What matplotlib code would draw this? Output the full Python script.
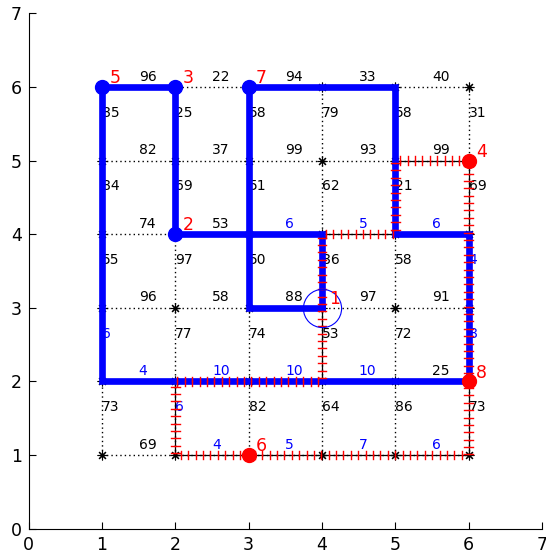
import numpy as np
import matplotlib
matplotlib.use("Agg")
from matplotlib import pyplot as plt
from matplotlib import patheffects

plt.rcParams["font.family"] = ["DejaVu Sans"]

# grid of nodes 1..6 x 1..6
grid_xs = [1, 2, 3, 4, 5, 6]
grid_ys = [1, 2, 3, 4, 5, 6]

# horizontal edge weights, row y, edge between x and x+1
h_weights = {
    1: [69, 4, 5, 7, 6],
    2: [4, 10, 10, 10, 25],
    3: [96, 58, 88, 97, 91],
    4: [74, 53, 6, 5, 6],
    5: [82, 37, 99, 93, 99],
    6: [96, 22, 94, 33, 40],
}
# 1 = updated weight (drawn blue)
h_updated = {
    1: [0, 1, 1, 1, 1],
    2: [1, 1, 1, 1, 0],
    3: [0, 0, 0, 0, 0],
    4: [0, 0, 1, 1, 1],
    5: [0, 0, 0, 0, 0],
    6: [0, 0, 0, 0, 0],
}
# vertical edge weights, column x, edge between y and y+1
v_weights = {
    1: [73, 6, 55, 84, 85],
    2: [6, 77, 97, 69, 25],
    3: [82, 74, 50, 51, 58],
    4: [64, 53, 86, 62, 79],
    5: [86, 72, 58, 21, 58],
    6: [73, 8, 4, 69, 31],
}
v_updated = {
    1: [0, 1, 0, 0, 0],
    2: [1, 0, 0, 0, 0],
    3: [0, 0, 0, 0, 0],
    4: [0, 0, 0, 0, 0],
    5: [0, 0, 0, 0, 0],
    6: [0, 1, 1, 0, 0],
}

# numbered nodes
node_ids = [1, 2, 3, 4, 5, 6, 7, 8]
node_x = [4, 2, 2, 6, 1, 3, 3, 6]
node_y = [3, 4, 6, 5, 6, 1, 6, 2]
node_kind = ["start", "blue", "blue", "red", "blue", "red", "blue", "red"]

# blue tour and red (ticked) tour, both closed
blue_x = [4, 3, 3, 5, 5, 6, 6, 1, 1, 2, 2, 4, 4]
blue_y = [3, 3, 6, 6, 4, 4, 2, 2, 6, 6, 4, 4, 3]
red_x = [4, 4, 5, 5, 6, 6, 2, 2, 4, 4]
red_y = [3, 4, 4, 5, 5, 1, 1, 2, 2, 3]

fig = plt.figure(figsize=(5.46, 5.6), dpi=100)
ax = fig.add_axes([0.0524, 0.0561, 0.9403, 0.920])

dotted = (0, (1, 2.2))
for y in grid_ys:
    ax.plot([grid_xs[0], grid_xs[-1]], [y, y], color="black", lw=1,
            linestyle=dotted, zorder=1)
for x in grid_xs:
    ax.plot([x, x], [grid_ys[0], grid_ys[-1]], color="black", lw=1,
            linestyle=dotted, zorder=1)

gx, gy = np.meshgrid(grid_xs, grid_ys)
ax.plot(gx.ravel(), gy.ravel(), linestyle="none", marker=(8, 2, 0),
        markersize=7, color="black", markeredgewidth=0.8, zorder=1.5)

# edge weights
for y, row in h_weights.items():
    for i, w in enumerate(row):
        x = grid_xs[i]
        c = "blue" if h_updated[y][i] else "black"
        ax.text(x + 0.5, y + 0.14, str(w), color=c, fontsize=10,
                ha="left", va="center", zorder=2)
for x, col in v_weights.items():
    for i, w in enumerate(col):
        y = grid_ys[i]
        c = "blue" if v_updated[x][i] else "black"
        ax.text(x, y + 0.65, str(w), color=c, fontsize=10,
                ha="left", va="center", zorder=2)

# red tour: thin black line, red cross ticks on top
ax.plot(red_x, red_y, color="black", lw=0.9, zorder=2.5)
ax.plot(blue_x, blue_y, color="blue", lw=4.8, solid_joinstyle="miter",
        solid_capstyle="projecting", zorder=3)
ticks = ax.plot(red_x, red_y, color="red", lw=1, zorder=4)[0]
ticks.set_path_effects([
    patheffects.TickedStroke(spacing=5.3, angle=90, length=0.58,
                             foreground="red", linewidth=1),
    patheffects.TickedStroke(spacing=5.3, angle=-90, length=0.58,
                             foreground="red", linewidth=1),
])

for nid, x, y, kind in zip(node_ids, node_x, node_y, node_kind):
    if kind == "start":
        ax.plot(x, y, marker="o", markersize=27.5, markerfacecolor="none",
                markeredgecolor="blue", markeredgewidth=0.8, zorder=5)
    else:
        ax.plot(x, y, marker="o", markersize=10, color=kind, zorder=5)
    ax.text(x + 0.1, y + 0.12, str(nid), color="red", fontsize=12.5,
            ha="left", va="center", zorder=6)

ax.set_xlim(0, 7)
ax.set_ylim(0, 7)
ax.set_xticks(range(8))
ax.set_yticks(range(8))
ax.tick_params(direction="in", length=5, labelsize=12.5, pad=5)
ax.spines["top"].set_visible(False)
ax.spines["right"].set_visible(False)

fig.savefig("out.png", dpi=100)
